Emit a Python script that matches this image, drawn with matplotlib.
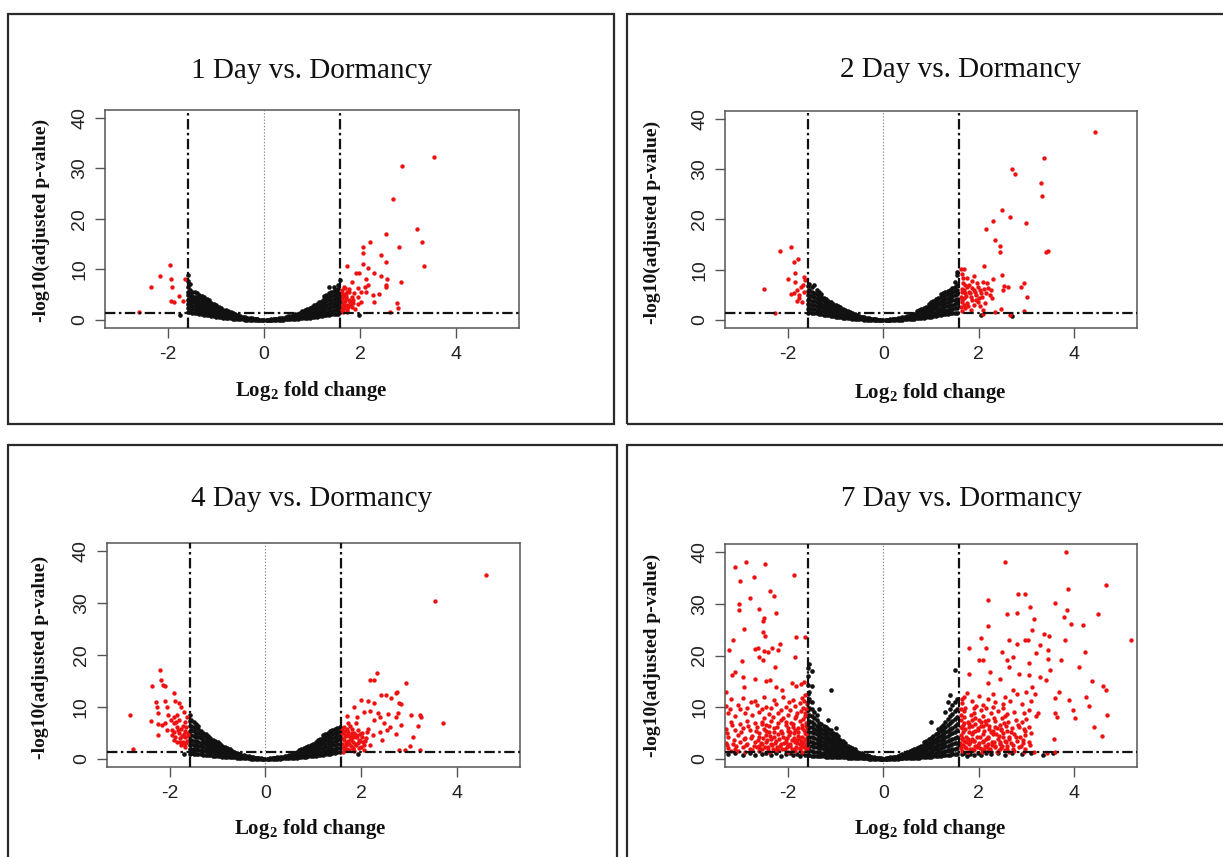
import matplotlib
matplotlib.use("Agg")
import matplotlib.pyplot as plt
from matplotlib.patches import Rectangle

plt.rcParams["lines.scale_dashes"] = False
plt.rcParams["mathtext.fontset"] = "custom"
plt.rcParams["mathtext.rm"] = "Liberation Serif"
plt.rcParams["mathtext.bf"] = "Liberation Serif:bold"

W, H = 1223, 857

# ---------------- thresholds ----------------
FC_CUT = 1.585          # |log2 fold change| = log2(3)
P_CUT = 1.3             # -log10(0.05)

titles = ["1 Day vs. Dormancy", "2 Day vs. Dormancy",
          "4 Day vs. Dormancy", "7 Day vs. Dormancy"]
x_ticks = [-2, 0, 2, 4]
y_ticks = [0, 10, 20, 30, 40]

# ---------------- 1 Day: non-significant genes (x, list of -log10 p) ----------------
day1_black = [
    (-1.58, [1.5, 2.3, 3.1, 4.0, 4.9, 5.6, 6.6, 7.8, 8.9]),
    (-1.55, [1.6, 2.4, 3.2, 3.9, 4.7, 5.3, 5.9, 7.1]),
    (-1.50, [1.4, 2.1, 2.8, 3.5, 4.2, 4.8, 5.6]),
    (-1.45, [1.3, 2.0, 2.7, 3.3, 4.0, 4.6, 5.5]),
    (-1.40, [1.3, 1.9, 2.6, 3.2, 3.8, 4.5, 5.3]),
    (-1.35, [1.2, 1.8, 2.4, 3.0, 3.6, 4.3, 5.0]),
    (-1.30, [1.1, 1.7, 2.3, 2.9, 3.5, 4.1, 4.8]),
    (-1.25, [1.0, 1.6, 2.2, 2.8, 3.3, 3.9, 4.5]),
    (-1.20, [0.9, 1.5, 2.0, 2.6, 3.1, 3.7, 4.2]),
    (-1.15, [0.9, 1.4, 1.9, 2.4, 2.9, 3.4, 3.9]),
    (-1.10, [0.8, 1.3, 1.8, 2.3, 2.8, 3.3]),
    (-1.05, [0.7, 1.2, 1.7, 2.2, 2.6, 3.1]),
    (-1.00, [0.6, 1.1, 1.5, 2.0, 2.4, 2.9]),
    (-0.95, [0.5, 1.0, 1.4, 1.8, 2.2, 2.6]),
    (-0.90, [0.5, 0.9, 1.3, 1.7, 2.1, 2.4]),
    (-0.85, [0.4, 0.8, 1.2, 1.6, 2.0]),
    (-0.80, [0.4, 0.7, 1.1, 1.5, 1.9]),
    (-0.75, [0.3, 0.6, 1.0, 1.3, 1.7]),
    (-0.70, [0.3, 0.6, 0.9, 1.2, 1.5]),
    (-0.65, [0.2, 0.5, 0.8, 1.1, 1.3]),
    (-0.60, [0.2, 0.4, 0.7, 0.9, 1.1]),
    (-0.55, [0.15, 0.4, 0.6, 0.9]),
    (-0.50, [0.1, 0.3, 0.5, 0.8]),
    (-0.45, [0.1, 0.3, 0.45, 0.65]),
    (-0.40, [0.05, 0.25, 0.5]),
    (-0.35, [0.05, 0.2, 0.4]),
    (-0.30, [0.03, 0.15, 0.35]),
    (-0.25, [0.02, 0.12, 0.28]),
    (-0.20, [0.01, 0.1, 0.2]),
    (-0.15, [0.0, 0.08, 0.15]),
    (-0.10, [0.0, 0.05]),
    (-0.05, [0.0, 0.03]),
    (0.00, [0.0]),
    (0.05, [0.0, 0.03]),
    (0.10, [0.0, 0.05]),
    (0.15, [0.0, 0.07, 0.14]),
    (0.20, [0.01, 0.09, 0.18]),
    (0.25, [0.02, 0.11, 0.25]),
    (0.30, [0.03, 0.14, 0.3]),
    (0.35, [0.04, 0.18, 0.38]),
    (0.40, [0.05, 0.22, 0.45]),
    (0.45, [0.08, 0.28, 0.55]),
    (0.50, [0.1, 0.3, 0.5, 0.7]),
    (0.55, [0.12, 0.35, 0.6, 0.85]),
    (0.60, [0.15, 0.4, 0.7, 1.0]),
    (0.65, [0.2, 0.45, 0.8, 1.1]),
    (0.70, [0.25, 0.55, 0.9, 1.25]),
    (0.75, [0.3, 0.6, 1.0, 1.4]),
    (0.80, [0.3, 0.7, 1.1, 1.5, 1.7]),
    (0.85, [0.35, 0.75, 1.2, 1.6, 1.9]),
    (0.90, [0.4, 0.8, 1.3, 1.7, 2.1]),
    (0.95, [0.45, 0.9, 1.4, 1.9, 2.3]),
    (1.00, [0.5, 1.0, 1.5, 2.0, 2.6]),
    (1.05, [0.55, 1.1, 1.6, 2.1, 2.6, 3.0]),
    (1.10, [0.6, 1.2, 1.7, 2.3, 2.8, 3.2]),
    (1.15, [0.7, 1.3, 1.9, 2.5, 3.0, 3.5]),
    (1.20, [0.8, 1.4, 2.0, 2.6, 3.2, 3.8]),
    (1.25, [0.9, 1.5, 2.2, 2.8, 3.4, 4.1, 4.7]),
    (1.30, [1.0, 1.6, 2.3, 3.0, 3.7, 4.4, 5.0]),
    (1.35, [1.0, 1.7, 2.4, 3.1, 3.9, 4.6, 5.4, 6.5]),
    (1.40, [1.1, 1.8, 2.5, 3.3, 4.0, 4.8, 5.6]),
    (1.45, [1.1, 1.9, 2.7, 3.4, 4.2, 5.0, 5.8, 6.6]),
    (1.50, [1.2, 2.0, 2.8, 3.6, 4.4, 5.2, 6.0]),
    (1.55, [1.2, 2.1, 3.0, 3.8, 4.6, 5.4, 6.2, 7.0]),
    (1.58, [1.5, 2.6, 3.6, 4.8, 8.0]),
]
day1_red = [
    (-2.61, 1.65), (-2.37, 6.5), (-2.17, 8.7), (-1.97, 10.8), (-1.94, 8.2),
    (-1.93, 6.6), (-1.94, 3.7), (-1.88, 3.6), (-1.77, 4.8), (-1.70, 3.8),
    (-1.66, 8.2),
    (3.54, 32.3), (2.88, 30.4), (2.69, 24.0), (3.19, 18.0), (2.55, 17.0),
    (3.30, 15.4), (2.20, 15.4), (2.06, 14.5), (2.82, 14.4), (2.06, 13.3),
    (2.44, 12.9), (2.55, 11.5), (2.06, 11.1), (3.33, 10.6), (1.73, 10.6),
    (2.17, 10.2), (1.91, 9.2), (1.99, 9.2), (2.29, 9.2), (2.12, 8.2),
    (2.44, 8.6), (2.56, 8.1), (2.85, 7.6), (1.84, 7.5), (2.17, 7.0),
    (2.10, 6.6), (2.55, 7.0), (2.55, 6.6), (1.77, 6.1), (1.95, 6.3),
    (1.73, 5.6), (1.87, 5.4), (2.02, 5.6), (2.12, 5.6), (2.27, 5.0),
    (2.40, 5.2), (1.83, 4.6), (1.95, 4.6), (1.70, 4.3), (1.77, 4.0),
    (1.86, 4.0), (2.29, 3.5), (2.02, 3.5), (1.64, 3.4), (1.73, 3.0),
    (1.80, 3.0), (1.84, 2.6), (1.67, 2.4), (1.73, 2.0), (2.78, 3.3),
    (2.80, 2.3), (2.62, 1.65), (1.73, 1.6), (1.65, 1.6), (1.69, 5.2),
    (1.77, 5.6), (1.62, 6.0), (1.65, 4.8), (1.62, 2.8), (1.68, 3.8),
    (1.90, 2.2), (1.95, 3.2), (1.62, 4.2), (1.66, 6.6),
    (1.63, 1.9), (1.66, 3.0), (1.70, 4.8), (1.75, 2.6), (1.80, 3.6),
    (1.62, 5.4), (1.68, 6.3), (1.85, 3.4),
]
day1_low = [(1.98, 0.9), (-1.75, 1.0)]

# ---------------- 2 Day ----------------
day2_black = [
    (-1.58, [1.4, 2.2, 3.1, 4.0, 4.9, 5.8, 6.7]),
    (-1.55, [1.5, 2.3, 3.2, 4.1, 5.0, 6.0, 7.2]),
    (-1.50, [1.4, 2.2, 3.0, 3.8, 4.7, 5.6, 6.6]),
    (-1.45, [1.3, 2.1, 2.9, 3.7, 4.5, 5.4, 6.9]),
    (-1.40, [1.3, 2.0, 2.8, 3.5, 4.3, 5.1, 5.9]),
    (-1.35, [1.2, 1.9, 2.6, 3.3, 4.1, 4.9, 5.5]),
    (-1.30, [1.1, 1.8, 2.5, 3.2, 3.9, 4.6, 5.2]),
    (-1.25, [1.0, 1.7, 2.4, 3.0, 3.7, 4.4]),
    (-1.20, [0.9, 1.6, 2.2, 2.8, 3.5, 4.1]),
    (-1.15, [0.9, 1.5, 2.1, 2.7, 3.3, 3.8]),
    (-1.10, [0.8, 1.4, 2.0, 2.5, 3.1, 3.5]),
    (-1.05, [0.7, 1.3, 1.8, 2.3, 2.8, 3.2]),
    (-1.00, [0.6, 1.1, 1.6, 2.1, 2.6, 3.0]),
    (-0.95, [0.55, 1.0, 1.5, 2.0, 2.4, 2.7]),
    (-0.90, [0.5, 0.9, 1.4, 1.8, 2.2, 2.5]),
    (-0.85, [0.4, 0.85, 1.3, 1.7, 2.1]),
    (-0.80, [0.4, 0.8, 1.2, 1.5, 1.9]),
    (-0.75, [0.35, 0.7, 1.05, 1.4, 1.7]),
    (-0.70, [0.3, 0.6, 0.95, 1.25, 1.5]),
    (-0.65, [0.25, 0.5, 0.8, 1.1, 1.3]),
    (-0.60, [0.2, 0.45, 0.7, 0.95, 1.15]),
    (-0.55, [0.15, 0.4, 0.65, 0.9]),
    (-0.50, [0.1, 0.35, 0.55, 0.75]),
    (-0.45, [0.1, 0.3, 0.5, 0.65]),
    (-0.40, [0.05, 0.25, 0.5]),
    (-0.35, [0.05, 0.2, 0.4]),
    (-0.30, [0.03, 0.15, 0.32]),
    (-0.25, [0.02, 0.12, 0.26]),
    (-0.20, [0.01, 0.1, 0.2]),
    (-0.15, [0.0, 0.07, 0.14]),
    (-0.10, [0.0, 0.05]),
    (-0.05, [0.0, 0.02]),
    (0.00, [0.0]),
    (0.05, [0.0, 0.03]),
    (0.10, [0.0, 0.06]),
    (0.15, [0.01, 0.08, 0.15]),
    (0.20, [0.02, 0.1, 0.2]),
    (0.25, [0.03, 0.14, 0.27]),
    (0.30, [0.04, 0.17, 0.34]),
    (0.35, [0.05, 0.2, 0.42]),
    (0.40, [0.07, 0.26, 0.5]),
    (0.45, [0.09, 0.3, 0.6]),
    (0.50, [0.1, 0.35, 0.6, 0.8]),
    (0.55, [0.15, 0.4, 0.7, 0.95]),
    (0.60, [0.2, 0.5, 0.8, 1.1]),
    (0.65, [0.25, 0.55, 0.9, 1.25]),
    (0.70, [0.3, 0.65, 1.0, 1.4, 1.7]),
    (0.75, [0.35, 0.7, 1.1, 1.5, 1.9]),
    (0.80, [0.4, 0.8, 1.2, 1.7, 2.1]),
    (0.85, [0.45, 0.9, 1.4, 1.9, 2.4]),
    (0.90, [0.5, 1.0, 1.5, 2.0, 2.6]),
    (0.95, [0.55, 1.1, 1.6, 2.2, 2.8, 3.2]),
    (1.00, [0.6, 1.2, 1.8, 2.4, 3.0, 3.5]),
    (1.05, [0.7, 1.3, 1.9, 2.6, 3.2, 3.8]),
    (1.10, [0.8, 1.4, 2.1, 2.8, 3.4, 4.1]),
    (1.15, [0.9, 1.5, 2.2, 2.9, 3.6, 4.3]),
    (1.20, [1.0, 1.7, 2.4, 3.1, 3.8, 4.6, 5.1]),
    (1.25, [1.1, 1.8, 2.5, 3.2, 4.0, 4.8, 5.4]),
    (1.30, [1.2, 1.9, 2.7, 3.4, 4.2, 5.0, 5.6]),
    (1.35, [1.2, 2.0, 2.8, 3.6, 4.4, 5.2, 5.8]),
    (1.40, [1.3, 2.1, 2.9, 3.7, 4.5, 5.3, 6.0]),
    (1.45, [1.3, 2.2, 3.0, 3.9, 4.7, 5.5, 6.3]),
    (1.50, [1.4, 2.3, 3.2, 4.0, 4.9, 5.8, 6.6, 7.5]),
    (1.55, [1.4, 2.4, 3.3, 4.2, 5.1, 6.0, 7.0, 8.9, 9.6]),
]
day2_red = [
    (-2.51, 6.1), (-2.27, 1.4), (-2.17, 13.7), (-1.94, 14.5), (-1.78, 12.1),
    (-1.88, 11.5), (-1.85, 9.3), (-1.99, 8.1), (-1.94, 5.2), (-1.85, 7.6),
    (-1.80, 6.0), (-1.73, 6.6), (-1.66, 8.6), (-1.64, 8.0), (-1.69, 7.0),
    (-1.76, 5.0), (-1.81, 3.8), (-1.71, 3.6), (-1.76, 4.3), (-1.67, 5.6),
    (-1.87, 5.3),
    (4.43, 37.4), (3.36, 32.3), (2.70, 30.0), (2.76, 29.1), (3.30, 27.3),
    (3.32, 24.6), (2.49, 21.9), (2.65, 20.4), (2.31, 19.6), (3.00, 19.2),
    (2.16, 18.2), (2.35, 15.9), (2.45, 14.7), (2.45, 13.5), (3.46, 13.7),
    (3.41, 13.6), (2.12, 10.8), (1.62, 10.1), (1.69, 10.1), (2.49, 9.0),
    (2.94, 7.3), (2.89, 6.6), (2.31, 8.2), (2.54, 6.8), (2.61, 6.6),
    (2.51, 5.9), (3.02, 4.5), (2.24, 5.0), (2.28, 4.3), (2.16, 5.4),
    (2.05, 5.3), (2.08, 7.6), (1.97, 7.4), (1.86, 7.8), (1.76, 8.3),
    (1.67, 7.3), (1.76, 6.6), (1.86, 6.3), (1.93, 5.6), (1.72, 5.3),
    (1.64, 5.6), (1.83, 4.6), (1.69, 4.3), (1.64, 3.6), (1.76, 3.3),
    (1.90, 3.0), (1.72, 2.3), (1.65, 1.7), (2.03, 2.7), (2.14, 3.3),
    (2.00, 4.3), (2.09, 2.0), (2.10, 1.2), (2.35, 1.5), (2.47, 2.1),
    (2.66, 1.0), (2.94, 1.7), (1.83, 2.0), (1.79, 5.6), (1.99, 6.6),
    (1.90, 8.8), (2.17, 7.3), (1.62, 4.6), (1.66, 6.2), (1.70, 2.9),
    (1.95, 4.0), (1.80, 7.0),
    (1.63, 2.6), (1.66, 3.9), (1.70, 5.9), (1.74, 4.8), (1.78, 2.7),
    (1.82, 5.4), (1.86, 4.0), (1.90, 6.0), (1.94, 4.9), (1.98, 3.6),
    (2.02, 6.0), (2.06, 4.6), (1.68, 8.4), (1.72, 7.0), (2.12, 6.2),
    (2.20, 6.4), (2.25, 5.9), (1.64, 9.2),
]
day2_low = [(2.05, 0.9), (2.70, 0.8)]

# ---------------- 4 Day ----------------
day4_black = [
    (-1.58, [1.0, 1.8, 2.7, 3.6, 4.5, 5.4, 6.3, 7.3, 8.4]),
    (-1.55, [1.1, 1.9, 2.8, 3.7, 4.6, 5.5, 6.4, 7.4]),
    (-1.50, [1.0, 1.8, 2.7, 3.5, 4.4, 5.3, 6.2, 7.0]),
    (-1.45, [1.0, 1.8, 2.6, 3.4, 4.2, 5.0, 5.9, 6.7]),
    (-1.40, [0.9, 1.7, 2.5, 3.3, 4.1, 4.9, 5.7, 6.3]),
    (-1.35, [0.9, 1.6, 2.4, 3.1, 3.9, 4.6, 5.3]),
    (-1.30, [0.8, 1.5, 2.3, 3.0, 3.7, 4.4, 5.0]),
    (-1.25, [0.8, 1.5, 2.1, 2.8, 3.5, 4.1, 4.7]),
    (-1.20, [0.7, 1.4, 2.0, 2.6, 3.2, 3.8, 4.4]),
    (-1.15, [0.7, 1.3, 1.9, 2.5, 3.0, 3.6, 4.0]),
    (-1.10, [0.6, 1.2, 1.7, 2.3, 2.8, 3.3, 3.7]),
    (-1.05, [0.6, 1.1, 1.6, 2.1, 2.6, 3.0, 3.4]),
    (-1.00, [0.5, 1.0, 1.5, 2.0, 2.4, 2.8, 3.2]),
    (-0.95, [0.5, 0.9, 1.4, 1.8, 2.2, 2.6, 2.9]),
    (-0.90, [0.4, 0.85, 1.3, 1.7, 2.1, 2.5]),
    (-0.85, [0.4, 0.8, 1.2, 1.6, 1.9, 2.2]),
    (-0.80, [0.35, 0.7, 1.1, 1.4, 1.7, 2.0]),
    (-0.75, [0.3, 0.65, 1.0, 1.3, 1.6, 1.8]),
    (-0.70, [0.3, 0.6, 0.9, 1.2, 1.45]),
    (-0.65, [0.25, 0.5, 0.8, 1.05, 1.3]),
    (-0.60, [0.2, 0.45, 0.7, 0.95, 1.15]),
    (-0.55, [0.15, 0.4, 0.6, 0.85, 1.0]),
    (-0.50, [0.1, 0.35, 0.55, 0.75]),
    (-0.45, [0.1, 0.3, 0.45, 0.65]),
    (-0.40, [0.05, 0.25, 0.4, 0.55]),
    (-0.35, [0.05, 0.2, 0.35, 0.45]),
    (-0.30, [0.03, 0.15, 0.3]),
    (-0.25, [0.02, 0.12, 0.25]),
    (-0.20, [0.01, 0.09, 0.18]),
    (-0.15, [0.0, 0.07, 0.13]),
    (-0.10, [0.0, 0.05]),
    (-0.05, [0.0, 0.02]),
    (0.00, [0.0]),
    (0.05, [0.0, 0.03]),
    (0.10, [0.0, 0.05]),
    (0.15, [0.01, 0.07, 0.13]),
    (0.20, [0.02, 0.09, 0.18]),
    (0.25, [0.02, 0.12, 0.24]),
    (0.30, [0.03, 0.15, 0.3]),
    (0.35, [0.05, 0.2, 0.37]),
    (0.40, [0.06, 0.24, 0.45]),
    (0.45, [0.08, 0.28, 0.52]),
    (0.50, [0.1, 0.32, 0.6, 0.75]),
    (0.55, [0.12, 0.38, 0.65, 0.9]),
    (0.60, [0.15, 0.42, 0.75, 1.05]),
    (0.65, [0.2, 0.5, 0.85, 1.2]),
    (0.70, [0.25, 0.55, 0.95, 1.35, 1.6]),
    (0.75, [0.3, 0.65, 1.05, 1.5, 1.8]),
    (0.80, [0.35, 0.75, 1.15, 1.6, 2.0]),
    (0.85, [0.4, 0.8, 1.3, 1.8, 2.2]),
    (0.90, [0.45, 0.9, 1.4, 1.9, 2.4]),
    (0.95, [0.5, 1.0, 1.5, 2.0, 2.6]),
    (1.00, [0.55, 1.05, 1.6, 2.2, 2.8]),
    (1.05, [0.6, 1.15, 1.7, 2.3, 2.9, 3.3]),
    (1.10, [0.7, 1.25, 1.85, 2.5, 3.1, 3.6]),
    (1.15, [0.75, 1.35, 2.0, 2.6, 3.2, 3.8]),
    (1.20, [0.8, 1.45, 2.1, 2.8, 3.4, 4.0, 4.5]),
    (1.25, [0.9, 1.55, 2.2, 2.9, 3.6, 4.2, 4.8]),
    (1.30, [1.0, 1.65, 2.35, 3.0, 3.7, 4.4, 5.0]),
    (1.35, [1.0, 1.7, 2.45, 3.2, 3.9, 4.6, 5.3]),
    (1.40, [1.1, 1.8, 2.55, 3.3, 4.0, 4.8, 5.5]),
    (1.45, [1.1, 1.9, 2.7, 3.4, 4.2, 5.0, 5.8]),
    (1.50, [1.2, 2.0, 2.8, 3.6, 4.4, 5.2, 6.0]),
    (1.55, [1.2, 2.1, 2.9, 3.8, 4.6, 5.4, 6.2]),
]
day4_red = [
    (-2.83, 8.4), (-2.77, 1.9), (-2.40, 7.2), (-2.38, 14.0), (-2.20, 17.2),
    (-2.19, 15.2), (-2.15, 14.2), (-2.09, 14.1), (-2.29, 11.0), (-2.27, 10.0),
    (-2.25, 8.9), (-2.25, 6.6), (-2.24, 4.5), (-2.09, 11.2), (-2.05, 10.0),
    (-1.92, 12.6), (-1.88, 11.2), (-1.80, 10.7), (-1.76, 10.0), (-1.71, 9.1),
    (-2.03, 8.4), (-1.92, 8.1), (-1.84, 8.4), (-1.80, 7.4), (-2.17, 6.5),
    (-2.09, 6.8), (-1.92, 6.9), (-1.84, 6.1), (-1.76, 5.8), (-1.69, 7.1),
    (-1.66, 6.1), (-1.92, 5.2), (-1.81, 4.9), (-1.71, 4.7), (-1.88, 4.2),
    (-1.78, 3.9), (-1.67, 4.2), (-1.84, 3.2), (-1.73, 3.2), (-1.63, 3.4),
    (-1.67, 2.3), (-1.77, 2.6), (-1.96, 5.6), (-2.05, 5.5), (-1.62, 5.0),
    (-1.64, 8.0),
    (-1.62, 4.4), (-1.65, 3.0), (-1.68, 5.3), (-1.70, 2.9), (-1.73, 6.3),
    (-1.74, 4.4), (-1.79, 3.3), (-1.82, 5.5), (-1.86, 7.0), (-1.90, 3.6),
    (-1.95, 4.5), (-1.98, 7.4),
    (4.61, 35.5), (3.55, 30.5), (2.33, 16.6), (2.18, 15.1), (2.27, 15.1),
    (2.94, 14.6), (2.75, 12.9), (2.41, 12.3), (2.51, 12.2), (2.63, 11.8),
    (2.72, 12.6), (1.99, 11.3), (2.14, 11.2), (2.27, 10.8), (2.80, 10.7),
    (2.84, 10.5), (1.85, 10.0), (2.36, 8.9), (2.57, 8.7), (2.76, 8.9),
    (3.05, 8.5), (3.24, 8.5), (2.18, 9.2), (2.05, 9.1), (1.71, 8.2),
    (1.91, 8.0), (2.40, 8.0), (2.72, 8.1), (3.71, 6.8), (3.26, 8.0),
    (3.18, 6.3), (3.09, 4.2), (3.03, 2.5), (2.84, 6.5), (2.61, 6.1),
    (2.47, 6.8), (2.26, 7.4), (2.72, 4.7), (2.55, 5.5), (2.39, 5.2),
    (2.24, 4.5), (2.43, 3.6), (2.14, 5.8), (2.80, 1.6), (3.24, 1.7),
    (2.92, 1.6),
    (1.72, 6.8), (1.64, 6.1), (1.81, 5.8), (1.93, 5.5), (1.72, 5.2),
    (1.85, 4.9), (1.97, 4.7), (1.66, 4.5), (1.76, 4.2), (1.89, 4.1),
    (2.01, 4.2), (2.10, 3.9), (1.64, 3.7), (1.72, 3.4), (1.83, 3.2),
    (1.93, 3.0), (2.04, 3.2), (1.68, 2.7), (1.79, 2.4), (1.89, 2.6),
    (1.99, 2.3), (1.64, 1.9), (1.74, 1.7), (1.85, 1.5), (1.62, 1.3),
    (1.60, 2.9), (1.60, 4.9), (1.71, 5.8), (2.12, 5.2), (2.18, 2.6),
    (2.05, 1.6), (1.89, 6.8), (1.79, 3.9), (1.96, 3.7), (1.69, 4.3),
    (1.61, 5.5), (1.78, 4.6), (1.92, 4.4), (1.70, 3.1), (1.82, 2.0),
    (1.62, 3.9), (1.65, 2.3), (1.67, 5.4), (1.70, 1.8), (1.73, 4.6),
    (1.75, 2.9), (1.78, 3.6), (1.80, 5.0), (1.82, 1.9), (1.87, 2.9),
    (1.90, 4.5), (1.95, 2.0), (1.98, 3.4), (2.02, 5.0), (2.06, 2.7),
    (2.08, 3.5), (1.63, 5.2), (1.76, 6.3), (1.68, 3.0), (1.84, 4.2),
]
day4_low = [(1.93, 1.0), (-1.70, 0.9)]

# ---------------- 7 Day ----------------
day7_black = [
    (-1.58, [0.7, 1.5, 2.4, 3.3, 4.2, 5.1, 6.0, 7.0, 8.2, 9.5, 11.0, 12.5, 14.2, 16.0, 17.5]),
    (-1.55, [0.7, 1.6, 2.5, 3.4, 4.3, 5.2, 6.2, 7.3, 8.5, 9.9, 11.5, 13.0, 18.3]),
    (-1.50, [0.6, 1.5, 2.4, 3.3, 4.2, 5.1, 6.1, 7.1, 8.3, 9.6, 11.0, 14.0, 17.0]),
    (-1.45, [0.6, 1.4, 2.2, 3.1, 4.0, 4.9, 5.8, 6.8, 7.9, 9.0]),
    (-1.40, [0.6, 1.4, 2.2, 3.0, 3.8, 4.7, 5.5, 6.4, 7.5, 8.4]),
    (-1.35, [0.5, 1.3, 2.1, 2.9, 3.7, 4.5, 5.3, 6.1, 7.0, 9.6]),
    (-1.30, [0.5, 1.2, 2.0, 2.7, 3.5, 4.3, 5.0, 5.8, 6.7]),
    (-1.25, [0.5, 1.2, 1.9, 2.6, 3.3, 4.0, 4.8, 5.5, 6.4]),
    (-1.20, [0.4, 1.1, 1.8, 2.5, 3.2, 3.9, 4.6, 5.3, 6.2]),
    (-1.15, [0.4, 1.0, 1.7, 2.3, 3.0, 3.6, 4.3, 5.0, 5.8, 7.5]),
    (-1.10, [0.4, 1.0, 1.6, 2.2, 2.8, 3.4, 4.0, 4.7, 5.5, 13.4]),
    (-1.05, [0.35, 0.9, 1.5, 2.1, 2.6, 3.2, 3.8, 4.4, 5.0]),
    (-1.00, [0.3, 0.85, 1.4, 1.9, 2.5, 3.0, 3.5, 4.1, 4.7, 6.0]),
    (-0.95, [0.3, 0.8, 1.3, 1.8, 2.3, 2.8, 3.3, 3.8, 4.4]),
    (-0.90, [0.3, 0.75, 1.2, 1.7, 2.1, 2.6, 3.1, 3.6]),
    (-0.85, [0.25, 0.7, 1.1, 1.5, 2.0, 2.4, 2.9, 3.4]),
    (-0.80, [0.25, 0.6, 1.0, 1.4, 1.8, 2.2, 2.6, 3.1]),
    (-0.75, [0.2, 0.55, 0.9, 1.3, 1.6, 2.0, 2.4]),
    (-0.70, [0.2, 0.5, 0.85, 1.2, 1.5, 1.8, 2.2]),
    (-0.65, [0.15, 0.45, 0.75, 1.05, 1.35, 1.65, 2.0]),
    (-0.60, [0.15, 0.4, 0.7, 0.95, 1.2, 1.5, 1.8]),
    (-0.55, [0.1, 0.35, 0.6, 0.85, 1.1, 1.35]),
    (-0.50, [0.1, 0.3, 0.55, 0.75, 0.95, 1.2]),
    (-0.45, [0.08, 0.25, 0.45, 0.65, 0.85, 1.05]),
    (-0.40, [0.06, 0.2, 0.4, 0.6, 0.8]),
    (-0.35, [0.05, 0.18, 0.35, 0.5, 0.7]),
    (-0.30, [0.04, 0.15, 0.3, 0.45, 0.6]),
    (-0.25, [0.03, 0.12, 0.25, 0.4]),
    (-0.20, [0.02, 0.1, 0.2, 0.32]),
    (-0.15, [0.01, 0.07, 0.15, 0.24]),
    (-0.10, [0.0, 0.05, 0.12]),
    (-0.05, [0.0, 0.03, 0.07]),
    (0.00, [0.0, 0.02]),
    (0.05, [0.0, 0.03, 0.07]),
    (0.10, [0.0, 0.05, 0.12]),
    (0.15, [0.01, 0.08, 0.16, 0.25]),
    (0.20, [0.02, 0.1, 0.2, 0.32]),
    (0.25, [0.03, 0.13, 0.26, 0.4]),
    (0.30, [0.04, 0.16, 0.32, 0.48]),
    (0.35, [0.05, 0.2, 0.38, 0.56, 0.75]),
    (0.40, [0.06, 0.24, 0.44, 0.65, 0.85]),
    (0.45, [0.08, 0.28, 0.5, 0.75, 1.0]),
    (0.50, [0.1, 0.32, 0.58, 0.85, 1.1, 1.4]),
    (0.55, [0.12, 0.36, 0.65, 0.95, 1.25, 1.55]),
    (0.60, [0.15, 0.42, 0.72, 1.05, 1.4, 1.7]),
    (0.65, [0.18, 0.47, 0.8, 1.15, 1.5, 1.9]),
    (0.70, [0.2, 0.52, 0.9, 1.3, 1.7, 2.1]),
    (0.75, [0.22, 0.58, 1.0, 1.4, 1.85, 2.3]),
    (0.80, [0.25, 0.65, 1.1, 1.55, 2.0, 2.5]),
    (0.85, [0.28, 0.7, 1.2, 1.7, 2.2, 2.7, 3.2]),
    (0.90, [0.3, 0.78, 1.3, 1.85, 2.4, 2.9, 3.5]),
    (0.95, [0.35, 0.85, 1.4, 2.0, 2.6, 3.1, 3.8]),
    (1.00, [0.4, 0.95, 1.5, 2.1, 2.8, 3.4, 4.1, 7.1]),
    (1.05, [0.45, 1.0, 1.65, 2.3, 3.0, 3.7, 4.4]),
    (1.10, [0.5, 1.1, 1.8, 2.5, 3.2, 3.9, 4.7]),
    (1.15, [0.55, 1.2, 1.9, 2.7, 3.4, 4.2, 5.0, 5.8]),
    (1.20, [0.6, 1.3, 2.1, 2.9, 3.7, 4.5, 5.3, 6.2]),
    (1.25, [0.65, 1.4, 2.2, 3.1, 3.9, 4.8, 5.7, 6.6]),
    (1.30, [0.7, 1.5, 2.4, 3.3, 4.2, 5.1, 6.1, 7.2, 9.1]),
    (1.35, [0.75, 1.6, 2.5, 3.5, 4.4, 5.4, 6.5, 7.7, 11.0]),
    (1.40, [0.8, 1.7, 2.7, 3.7, 4.7, 5.7, 6.9, 8.2, 9.7, 12.3]),
    (1.45, [0.85, 1.8, 2.8, 3.9, 4.9, 6.0, 7.3, 8.6, 10.5]),
    (1.50, [0.9, 1.9, 3.0, 4.1, 5.2, 6.4, 7.7, 9.2, 11.0, 17.2]),
    (1.55, [0.9, 2.0, 3.1, 4.3, 5.5, 6.7, 8.0, 9.6, 11.5]),
]
day7_red = [
    # strongly down-regulated
    (-3.10, 37.2), (-2.89, 38.1), (-2.49, 37.7), (-3.00, 34.5), (-2.72, 35.3),
    (-1.88, 35.6), (-2.80, 31.2), (-2.37, 32.5), (-2.30, 31.6), (-3.03, 29.9),
    (-3.03, 28.8), (-2.60, 29.1), (-2.25, 28.3), (-2.51, 27.2), (-2.53, 26.7),
    (-2.92, 25.1), (-2.53, 24.6), (-2.49, 23.8), (-3.16, 23.0), (-1.84, 23.6),
    (-1.64, 23.6), (-3.23, 21.0), (-2.69, 21.2), (-2.63, 21.4), (-2.34, 21.4),
    (-2.17, 22.3), (-2.21, 21.0), (-2.61, 19.7), (-2.51, 20.8), (-2.41, 20.7),
    (-2.53, 19.1), (-1.86, 19.7), (-2.96, 18.9), (-3.18, 16.2), (-3.10, 16.8),
    (-2.95, 15.9), (-2.27, 17.7), (-2.69, 15.5), (-2.45, 15.1), (-2.38, 15.2),
    (-1.92, 14.6), (-1.84, 14.0), (-1.72, 14.4), (-1.66, 14.9), (-3.30, 12.9),
    (-2.93, 13.9), (-2.25, 13.9), (-2.13, 13.3),
    (-3.20, 11.5), (-2.95, 11.8), (-2.70, 11.2), (-2.50, 12.0), (-2.30, 11.4),
    (-2.10, 11.9), (-1.90, 11.3), (-1.70, 11.7), (-1.65, 12.3),
    (-3.30, 10.2), (-3.05, 10.5), (-2.85, 9.8), (-2.65, 10.4), (-2.45, 10.0),
    (-2.25, 10.6), (-2.05, 10.1), (-1.85, 10.3), (-1.68, 9.9), (-2.55, 9.6),
    (-1.95, 9.5),
    (-3.25, 8.8), (-3.10, 8.3), (-2.90, 8.9), (-2.75, 8.5), (-2.60, 9.0),
    (-2.40, 8.6), (-2.20, 8.9), (-2.00, 8.4), (-1.80, 8.8), (-1.65, 8.3),
    (-2.10, 7.9), (-2.50, 7.8),
    (-3.20, 7.2), (-3.00, 6.8), (-2.85, 7.3), (-2.70, 6.9), (-2.55, 7.1),
    (-2.35, 7.4), (-2.20, 6.9), (-2.05, 7.2), (-1.90, 6.8), (-1.75, 7.4),
    (-1.62, 7.0), (-2.45, 6.6), (-1.85, 7.8),
    (-3.30, 5.8), (-3.10, 5.5), (-2.95, 6.0), (-2.80, 5.6), (-2.65, 6.1),
    (-2.50, 5.7), (-2.30, 5.9), (-2.15, 5.4), (-2.00, 6.0), (-1.85, 5.6),
    (-1.70, 5.9), (-1.62, 5.3), (-2.40, 5.2), (-1.95, 5.1), (-2.60, 5.0),
    (-3.25, 4.3), (-3.05, 4.6), (-2.90, 4.1), (-2.75, 4.5), (-2.60, 4.2),
    (-2.45, 4.6), (-2.30, 4.2), (-2.20, 4.7), (-2.10, 4.3), (-1.98, 4.6),
    (-1.88, 4.1), (-1.78, 4.5), (-1.70, 4.2), (-1.63, 4.7), (-2.35, 3.8),
    (-2.05, 3.8), (-1.80, 3.7),
    (-3.30, 3.1), (-3.15, 2.8), (-3.00, 3.3), (-2.85, 2.9), (-2.70, 3.2),
    (-2.55, 2.8), (-2.45, 3.3), (-2.35, 2.9), (-2.25, 3.4), (-2.15, 2.8),
    (-2.05, 3.2), (-1.95, 2.9), (-1.85, 3.3), (-1.75, 2.8), (-1.68, 3.2),
    (-1.62, 2.9),
    (-3.25, 2.1), (-3.10, 1.8), (-2.95, 2.3), (-2.80, 1.9), (-2.65, 2.2),
    (-2.55, 1.8), (-2.42, 2.3), (-2.32, 1.9), (-2.22, 2.2), (-2.12, 1.8),
    (-2.02, 2.3), (-1.92, 1.9), (-1.83, 2.2), (-1.74, 1.8), (-1.66, 2.3),
    (-1.61, 1.9), (-2.60, 2.5), (-2.00, 2.6), (-1.70, 2.6),
    (-3.20, 1.5), (-2.90, 1.4), (-2.60, 1.5), (-2.40, 1.4), (-2.20, 1.6),
    (-2.00, 1.4), (-1.85, 1.5), (-1.70, 1.4), (-1.63, 1.6), (-2.75, 1.6),
    (-3.05, 1.5),
    (-1.62, 6.3), (-1.65, 5.0), (-1.60, 3.6), (-1.64, 8.9), (-1.61, 10.6),
    (-1.70, 6.5), (-1.72, 3.5), (-1.78, 5.2), (-1.90, 6.2), (-1.66, 11.2),
    (-1.63, 9.6),
    # strongly up-regulated
    (3.84, 40.0), (2.56, 38.2), (4.66, 33.7), (3.88, 32.9), (2.98, 32.0),
    (2.82, 31.9), (2.19, 30.7), (3.60, 30.1), (3.07, 29.4), (3.86, 28.8),
    (4.50, 28.0), (2.60, 28.0), (2.81, 28.2), (3.79, 27.5), (3.17, 27.0),
    (3.94, 26.2), (4.18, 25.9), (2.20, 25.8), (3.11, 24.9), (3.37, 24.1),
    (3.48, 23.8), (5.19, 23.0), (2.04, 23.3), (2.63, 23.0), (2.98, 23.0),
    (3.03, 23.0), (3.82, 23.0), (2.81, 22.3), (3.29, 22.0), (1.79, 21.4),
    (2.16, 21.4), (2.48, 20.7), (3.45, 21.0), (2.00, 19.2), (2.09, 19.2),
    (2.59, 19.2), (2.72, 19.7), (3.21, 20.5), (3.73, 19.1), (4.22, 20.7),
    (3.45, 19.3), (3.05, 18.6), (2.63, 17.8), (3.49, 17.2), (4.11, 17.7),
    (1.79, 16.5), (2.24, 16.8), (2.85, 16.5), (3.05, 16.2), (3.29, 15.9),
    (3.41, 15.2), (4.38, 15.1), (2.44, 15.5), (2.20, 14.6), (4.60, 14.0),
    (4.66, 13.3), (3.69, 12.9), (2.72, 13.4), (3.11, 13.9), (3.19, 12.6),
    (4.26, 12.0), (3.60, 11.8), (3.90, 11.3), (4.32, 10.2), (3.97, 9.4),
    (4.70, 8.4), (4.02, 7.8), (3.25, 8.9), (3.21, 8.2), (3.61, 8.9),
    (3.65, 8.1), (4.42, 6.1), (4.58, 4.5), (3.57, 3.9), (3.61, 1.3),
    (3.44, 1.2), (3.17, 1.4), (2.64, 1.4),
    (1.75, 12.8), (2.00, 12.2), (2.30, 12.6), (2.55, 12.0), (2.80, 12.5),
    (3.00, 12.9), (1.70, 12.0),
    (1.65, 10.8), (1.85, 11.2), (2.10, 10.5), (2.35, 11.0), (2.50, 10.6),
    (2.65, 11.2), (2.90, 10.7), (3.10, 11.1), (1.95, 10.3), (2.20, 11.5),
    (1.70, 9.2), (1.90, 8.8), (2.05, 9.4), (2.25, 8.9), (2.40, 9.3),
    (2.60, 8.7), (2.75, 9.1), (2.95, 8.8), (3.05, 9.5), (1.62, 9.6),
    (2.15, 9.9), (2.50, 9.8),
    (1.63, 7.6), (1.78, 7.2), (1.92, 7.8), (2.05, 7.1), (2.20, 7.6),
    (2.35, 7.3), (2.48, 7.8), (2.62, 7.2), (2.78, 7.6), (2.90, 7.2),
    (3.00, 7.7), (1.70, 8.1), (2.10, 8.2), (2.55, 8.3),
    (1.62, 6.1), (1.72, 5.8), (1.85, 6.3), (1.98, 5.9), (2.10, 6.4),
    (2.22, 5.7), (2.35, 6.2), (2.46, 5.8), (2.58, 6.3), (2.70, 5.9),
    (2.85, 6.2), (2.95, 5.7), (3.05, 6.1), (1.80, 6.7), (2.15, 6.8),
    (2.45, 6.6),
    (1.63, 4.6), (1.74, 4.2), (1.86, 4.8), (1.97, 4.3), (2.08, 4.7),
    (2.20, 4.2), (2.30, 4.8), (2.42, 4.4), (2.52, 4.9), (2.63, 4.3),
    (2.75, 4.7), (2.86, 4.2), (2.98, 4.6), (3.10, 4.9), (1.68, 5.2),
    (1.92, 5.3), (2.25, 5.2), (2.60, 5.3),
    (1.61, 3.1), (1.70, 3.5), (1.80, 2.9), (1.90, 3.4), (2.00, 3.0),
    (2.10, 3.5), (2.20, 2.9), (2.32, 3.3), (2.44, 2.8), (2.55, 3.4),
    (2.68, 3.0), (2.80, 3.5), (2.92, 3.0), (3.05, 3.3), (1.66, 3.8),
    (1.85, 3.8), (2.15, 3.9), (2.40, 3.8),
    (1.62, 2.0), (1.72, 2.3), (1.82, 1.9), (1.93, 2.4), (2.03, 2.0),
    (2.13, 2.4), (2.24, 1.9), (2.35, 2.3), (2.47, 2.0), (2.60, 2.4),
    (2.72, 1.9), (2.85, 2.2), (2.98, 1.9), (1.68, 2.6), (1.98, 2.6),
    (2.28, 2.6),
    (1.64, 1.5), (1.78, 1.4), (1.90, 1.6), (2.06, 1.4), (2.20, 1.5),
    (2.38, 1.4), (2.55, 1.6), (2.75, 1.5), (2.95, 1.4),
]
# densest part of both significant clouds, close to the fold-change cut-offs
day7_red_core = [
    (-1.61, 2.5), (-1.64, 3.9), (-1.67, 5.6), (-1.69, 7.7), (-1.72, 9.3),
    (-1.75, 2.1), (-1.77, 4.0), (-1.79, 6.0), (-1.81, 3.0), (-1.83, 8.2),
    (-1.86, 1.8), (-1.88, 4.9), (-1.91, 3.6), (-1.93, 7.0), (-1.96, 2.4),
    (-1.99, 5.4), (-2.02, 4.0), (-2.04, 6.5), (-2.07, 1.9), (-2.09, 3.0),
    (-2.12, 5.0), (-2.14, 7.6), (-2.17, 2.5), (-2.19, 3.9), (-2.22, 6.1),
    (-2.24, 1.7), (-2.27, 3.1), (-2.29, 5.1), (-2.32, 8.0), (-2.34, 2.6),
    (-2.37, 4.5), (-2.39, 6.3), (-2.42, 1.6), (-2.44, 3.6), (-2.47, 5.3),
    (-2.49, 2.2), (-2.52, 4.0), (-2.54, 6.8), (-2.57, 3.0), (-2.59, 1.9),
    (-2.63, 3.7), (-2.67, 5.4), (-2.72, 2.4), (-2.78, 4.0), (-2.83, 6.4),
    (-2.88, 2.6), (-2.93, 3.8), (-2.98, 5.2), (-3.08, 2.4), (-3.13, 3.7),
    (-3.18, 6.5), (-3.28, 2.6), (-3.27, 4.9), (-3.22, 9.6), (-3.00, 9.6),
    (-2.78, 10.9), (-2.35, 9.8), (-2.15, 9.4), (-1.75, 10.8), (-1.98, 10.9),
    (1.61, 2.7), (1.64, 4.1), (1.66, 5.9), (1.69, 7.0), (1.72, 9.9),
    (1.74, 2.0), (1.77, 3.8), (1.79, 6.2), (1.81, 3.2), (1.83, 8.4),
    (1.86, 1.9), (1.88, 5.1), (1.91, 3.4), (1.93, 6.8), (1.96, 2.2),
    (1.99, 5.6), (2.02, 4.2), (2.04, 6.3), (2.07, 1.8), (2.09, 3.2),
    (2.12, 5.3), (2.14, 7.4), (2.17, 2.3), (2.19, 4.1), (2.22, 6.4),
    (2.24, 1.6), (2.27, 3.3), (2.29, 5.4), (2.32, 7.8), (2.34, 2.4),
    (2.37, 4.7), (2.39, 6.0), (2.42, 1.7), (2.44, 3.3), (2.47, 5.6),
    (2.49, 2.4), (2.52, 4.2), (2.54, 7.0), (2.57, 3.2), (2.59, 1.8),
    (2.63, 3.9), (2.67, 5.1), (2.72, 2.6), (2.78, 4.3), (2.83, 6.6),
    (2.88, 2.4), (2.93, 3.6), (2.98, 5.4), (3.08, 2.6), (1.66, 11.6),
    (1.90, 9.9), (2.30, 10.0), (1.62, 8.4), (1.68, 6.5), (1.74, 3.2),
    (1.80, 5.1), (1.86, 7.5), (2.00, 7.5), (2.12, 1.6),
]
day7_low = [
    (-3.25, 0.9), (-3.10, 1.1), (-2.95, 0.8), (-2.80, 1.2), (-2.70, 0.7),
    (-2.55, 1.0), (-2.45, 1.2), (-2.35, 0.8), (-2.25, 1.1), (-2.15, 0.6),
    (-2.05, 0.9), (-1.95, 1.2), (-1.90, 0.7), (-1.82, 1.0), (-1.75, 0.5),
    (-1.70, 1.2), (-1.65, 0.8),
    (1.65, 0.9), (1.70, 1.2), (1.75, 0.6), (1.82, 1.0), (1.90, 0.8),
    (1.98, 1.2), (2.05, 0.7), (2.15, 1.1), (2.25, 0.9), (2.40, 1.2),
    (2.55, 0.8), (2.70, 1.1), (2.90, 0.9), (3.10, 1.2), (3.35, 0.8),
    (3.55, 1.1),
]

black_sets = [day1_black, day2_black, day4_black, day7_black]
red_sets = [day1_red, day2_red, day4_red, day7_red + day7_red_core]
low_sets = [day1_low, day2_low, day4_low, day7_low]

# ---------------- layout (figure fractions) ----------------
axes_rects = [
    [0.0859, 0.6173, 0.3385, 0.2544],
    [0.5928, 0.6173, 0.3369, 0.2532],
    [0.0871, 0.1050, 0.3381, 0.2614],
    [0.5928, 0.1050, 0.3369, 0.2602],
]
frames_px = [(8, 14, 614, 424), (627, 14, 1240, 424),
             (8, 445, 617, 870), (627, 445, 1240, 870)]
title_px = [(312, 78), (961, 77), (312, 506), (962, 506)]
ylabel_px = [(41, 220), (652, 222), (40, 657), (652, 655)]
xlabel_px = [(311, 396), (930, 398), (310, 834), (930, 834)]

SERIF = ["Liberation Serif", "DejaVu Serif"]
SANS = ["Liberation Sans", "DejaVu Sans"]
RED = "#ee1111"
EDGE = "#555555"
DASHDOT = (0, (7.5, 2.5, 1.8, 2.5))


def expand(cols):
    xs, ys = [], []
    for x, col in cols:
        xs += [x] * len(col)
        ys += list(col)
    return xs, ys


def fx(px):
    return px / W


def fy(py):
    return 1 - py / H


fig = plt.figure(figsize=(W / 100, H / 100), dpi=100)
fig.patch.set_facecolor("white")

for i in range(4):
    x0, y0, x1, y1 = frames_px[i]
    fig.add_artist(Rectangle((fx(x0), fy(y1)), fx(x1) - fx(x0), fy(y0) - fy(y1),
                             transform=fig.transFigure, fill=False,
                             edgecolor="#2a2a2a", linewidth=1.6))

    ax = fig.add_axes(axes_rects[i])
    bx, by = expand(black_sets[i])
    lx = [p[0] for p in low_sets[i]]
    ly = [p[1] for p in low_sets[i]]
    rx = [p[0] for p in red_sets[i]]
    ry = [p[1] for p in red_sets[i]]
    ax.scatter(bx + lx, by + ly, s=11, c="#111111", linewidths=0, zorder=2)
    ax.scatter(rx, ry, s=10, c=RED, linewidths=0, zorder=2)

    ax.axvline(-FC_CUT, color="#111111", lw=1.6, ls=DASHDOT, zorder=3)
    ax.axvline(FC_CUT, color="#111111", lw=1.6, ls=DASHDOT, zorder=3)
    ax.axhline(P_CUT, color="#111111", lw=1.6, ls=DASHDOT, zorder=3)
    ax.axvline(0, color="#8a8a8a", lw=0.8, ls=(0, (1, 1.3)), zorder=1)

    ax.set_xlim(-3.32, 5.32)
    ax.set_ylim(-1.6, 41.6)
    ax.set_xticks(x_ticks)
    ax.set_yticks(y_ticks)
    ax.set_xticklabels([str(t) for t in x_ticks], fontfamily=SANS, fontsize=14)
    ax.set_yticklabels([str(t) for t in y_ticks], fontfamily=SANS, fontsize=14,
                       rotation=90, va="center")
    ax.tick_params(direction="out", length=7, width=1.0, color=EDGE,
                   labelcolor="#222222")
    ax.tick_params(axis="x", pad=6)
    ax.tick_params(axis="y", pad=5)
    for sp in ax.spines.values():
        sp.set_color(EDGE)
        sp.set_linewidth(1.1)

    tx, ty = title_px[i]
    fig.text(fx(tx), fy(ty), titles[i], ha="center", va="baseline",
             fontfamily=SERIF, fontsize=21, color="#111111")
    yx, yy = ylabel_px[i]
    fig.text(fx(yx), fy(yy), "-log10(adjusted p-value)", ha="center", va="center",
             rotation=90, fontfamily=SERIF, fontweight="bold", fontsize=14,
             color="#111111")
    xx, xy = xlabel_px[i]
    fig.text(fx(xx), fy(xy), r"Log$_{\mathbf{2}}$ fold change", ha="center",
             va="baseline", fontfamily=SERIF, fontweight="bold", fontsize=15,
             color="#111111")

fig.savefig("out.png", dpi=100, facecolor="white")
